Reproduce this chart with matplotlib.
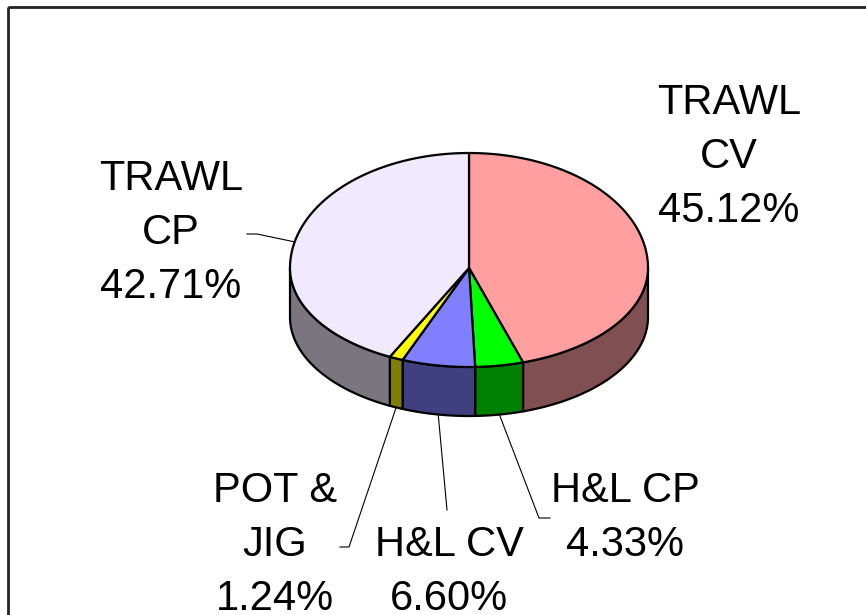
import numpy as np
import matplotlib
matplotlib.use('Agg')
import matplotlib.pyplot as plt
from matplotlib.patches import Polygon, Rectangle

# данные круговой диаграммы (по часовой стрелке от 12 часов)
labels = ['TRAWL\nCV', 'H&L CP', 'H&L CV', 'POT &\nJIG', 'TRAWL\nCP']
shares = [45.12, 4.33, 6.60, 1.24, 42.71]
top_colors = ['#FF9F9F', '#00FF00', '#8080FF', '#FFFF00', '#F1E9FE']
side_colors = ['#804F4F', '#008000', '#404080', '#808000', '#7B7580']

# позиции подписей (в пикселях) и изгиб выносок
label_pos = [(729, 157), (625, 518), (449, 572), (275, 545), (171, 233)]
leader_elbow = [None, (550, 518), (447, 510), (340, 547), (247, 234)]

# геометрия "3D" эллипса
CX, CY = 469, 268
RX, RY_TOP, RY_BOT = 179, 115, 99
DEPTH = 49


def pt(theta, dz=0):
    t = np.radians(theta)
    s = np.sin(t)
    ry = np.where(s > 0, RY_TOP, RY_BOT)
    return CX + RX * np.cos(t), CY - ry * s + dz


fig = plt.figure(figsize=(8.66, 6.15), dpi=100)
ax = fig.add_axes([0, 0, 1, 1])
ax.set_xlim(0, 866)
ax.set_ylim(615, 0)
ax.axis('off')

# рамка
ax.add_patch(Rectangle((8, 7), 880, 640, fill=False, ec='#222222', lw=2))

# углы секторов
bounds = [90.0]
for v in shares:
    bounds.append(bounds[-1] - v / sum(shares) * 360.0)

# боковые стенки (видна только передняя половина: -180..0)
for i in range(len(shares)):
    hi, lo = bounds[i], bounds[i + 1]
    a, b = max(lo, -180), min(hi, 0)
    if a >= b:
        continue
    th = np.linspace(b, a, 80)
    x1, y1 = pt(th)
    x2, y2 = pt(th[::-1], DEPTH)
    poly = np.column_stack([np.r_[x1, x2], np.r_[y1, y2]])
    ax.add_patch(Polygon(poly, closed=True, fc=side_colors[i], ec='black', lw=1.6, joinstyle='round'))

# верхние грани
for i in range(len(shares)):
    hi, lo = bounds[i], bounds[i + 1]
    th = np.linspace(hi, lo, 200)
    x, y = pt(th)
    poly = np.column_stack([np.r_[CX, x], np.r_[CY, y]])
    ax.add_patch(Polygon(poly, closed=True, fc=top_colors[i], ec='black', lw=1.6, joinstyle='round'))

# подписи и выноски
for i, lab in enumerate(labels):
    txt = lab + '\n' + '%.2f%%' % shares[i]
    lx, ly = label_pos[i]
    ax.text(lx, ly, txt, ha='center', va='center', fontsize=30,
            family='Liberation Sans', linespacing=1.45)
    if leader_elbow[i] is None:
        continue
    mid = (bounds[i] + bounds[i + 1]) / 2
    if np.sin(np.radians(mid)) < 0:
        ex, ey = pt(mid, DEPTH)
    else:
        ex, ey = pt(mid)
    elx, ely = leader_elbow[i]
    if i == 3:
        ax.plot([elx, elx + 9, ex], [ely, ely, ey], color='black', lw=0.8)
    elif i == 4:
        ax.plot([elx, elx + 10, ex], [ely, ely, ey], color='black', lw=0.8)
    elif i == 1:
        ax.plot([elx, elx - 11, ex], [ely, ely, ey], color='black', lw=0.8)
    else:
        ax.plot([elx, ex], [ely, ey], color='black', lw=0.8)

fig.savefig('out.png', dpi=100)
